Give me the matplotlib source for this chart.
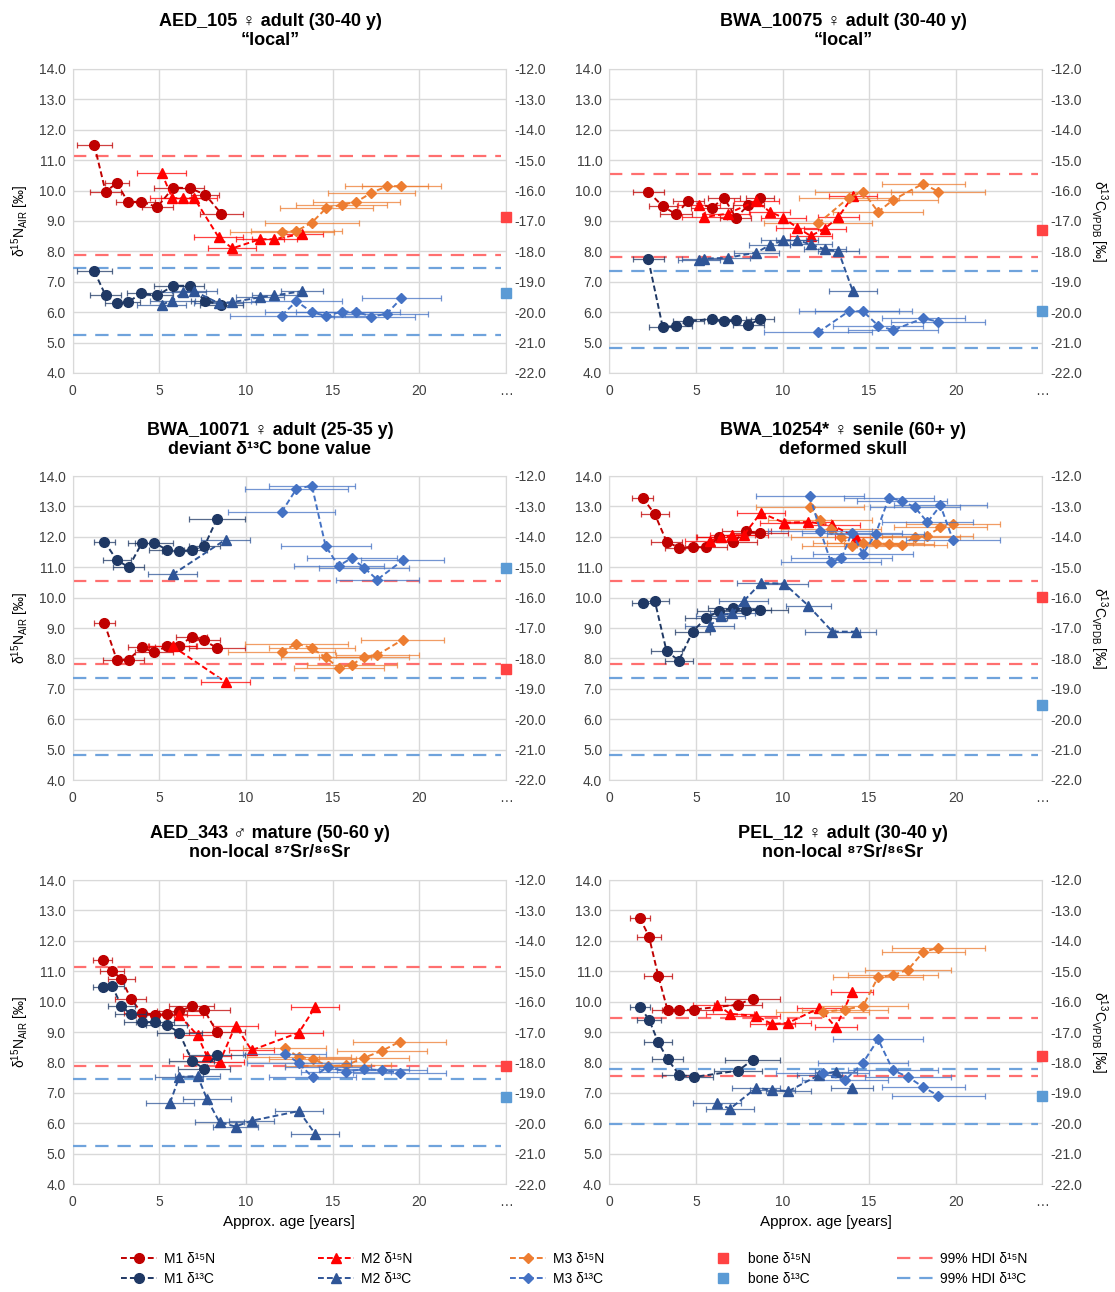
import matplotlib

matplotlib.use("Agg")

import matplotlib.pyplot as plt
import numpy as np
from matplotlib.lines import Line2D

plt.rcParams["font.family"] = ["Liberation Sans", "DejaVu Sans"]
plt.rcParams["mathtext.fontset"] = "custom"
plt.rcParams["mathtext.rm"] = "Liberation Sans"
plt.rcParams["mathtext.it"] = "Liberation Sans:italic"
plt.rcParams["axes.unicode_minus"] = False

nan = np.nan

# ---- AED_105 ----
p1_m1_age = [1.25, 1.90, 2.54, 3.19, 3.96, 4.88, 5.81, 6.77, 7.65, 8.58]
p1_m1_err = [1.0, 0.9, 0.7, 0.7, 0.8, 0.9, 1.1, 0.8, 0.8, 1.25]
p1_m1_n = [11.49, 9.96, 10.25, 9.63, 9.63, 9.46, 10.10, 10.08, 9.87, 9.24]
p1_m1_c = [-18.66, -19.45, -19.71, -19.67, -19.38, -19.45, -19.13, -19.13, -19.63, -19.76]
p1_m2_age = [5.13, 5.75, 6.38, 7.02, 8.42, 9.21, 10.81, 11.63, 13.25]
p1_m2_err = [1.43, 1.3, 1.3, 1.3, 1.42, 1.4, 1.4, 1.3, 1.2]
p1_m2_n = [10.59, 9.75, 9.75, 9.75, 8.47, 8.10, 8.40, 8.40, 8.58]
p1_m2_c = [-19.75, -19.62, -19.34, -19.31, -19.70, -19.67, -19.51, -19.45, -19.31]
p1_m3_age = [12.06, 12.92, 13.81, 14.65, 15.52, 16.38, 17.25, 18.13, 18.98]
p1_m3_err = [3.0, 2.6, 2.7, 2.7, 2.6, 2.5, 2.5, 2.4, 2.3]
p1_m3_n = [8.65, 8.67, 8.95, 9.43, 9.53, 9.63, 9.93, 10.14, 10.15]
p1_m3_c = [-20.11, -19.64, -20.00, -20.13, -19.98, -19.98, -20.15, -20.05, -19.54]
p1_bone = [9.12, -19.38]
p1_hdi_n = [11.13, 7.87]
p1_hdi_c = [-18.53, -20.74]

# ---- BWA_10075 ----
p2_m1_age = [2.25, 3.08, 3.85, 4.56, 5.94, 6.62, 7.31, 8.02, 8.71]
p2_m1_err = [0.9, 0.8, 0.9, 0.9, 1.2, 0.9, 0.9, 0.9, 0.8]
p2_m1_n = [9.96, 9.49, 9.22, 9.66, 9.44, 9.76, 9.11, 9.52, 9.76]
p2_m1_c = [-18.26, -20.48, -20.46, -20.30, -20.22, -20.30, -20.27, -20.43, -20.22]
p2_m2_age = [5.19, 5.48, 6.83, 8.48, 9.25, 10.04, 10.85, 11.63, 12.44, 13.23, 14.06]
p2_m2_err = [1.2, 1.3, 1.3, 1.3, 1.2, 1.3, 1.2, 1.2, 1.2, 1.2, 1.4]
p2_m2_n = [9.52, 9.13, 9.24, 9.66, 9.31, 9.11, 8.78, 8.51, 8.75, 9.13, 9.82]
p2_m2_c = [-18.29, -18.24, -18.21, -18.04, -17.80, -17.64, -17.63, -17.77, -17.93, -17.99, -19.31]
p2_m3_age = [12.06, 13.83, 14.65, 15.52, 16.38, 18.12, 18.98]
p2_m3_err = [3.1, 2.9, 2.8, 2.6, 2.6, 2.4, 2.7]
p2_m3_n = [8.92, 9.77, 9.97, 9.30, 9.69, 10.23, 9.97]
p2_m3_c = [-20.66, -19.97, -19.97, -20.44, -20.59, -20.20, -20.31]
p2_bone = [8.69, -19.97]
p2_hdi_n = [10.54, 7.81]
p2_hdi_c = [-18.65, -21.19]

# ---- BWA_10071 ----
p3_m1_age = [1.83, 2.54, 3.23, 3.98, 4.71, 5.42, 6.13, 6.87, 7.60, 8.33]
p3_m1_err = [0.6, 0.8, 0.9, 0.8, 1.1, 1.0, 1.0, 0.9, 0.9, 1.6]
p3_m1_n = [9.16, 7.96, 7.96, 8.36, 8.20, 8.40, 8.42, 8.70, 8.59, 8.34]
p3_m1_c = [-14.16, -14.76, -15.00, -14.22, -14.20, -14.42, -14.47, -14.44, -14.31, -13.41]
p3_m2_age = [5.77, 8.83]
p3_m2_err = [1.4, 1.4]
p3_m2_n = [8.40, 7.22]
p3_m2_c = [-15.24, -14.09]
p3_m3_age = [12.06, 12.92, 13.81, 14.60, 15.35, 16.10, 16.83, 17.58, 19.06]
p3_m3_err = [3.1, 3.0, 2.5, 2.6, 2.6, 2.6, 2.6, 2.4, 2.4]
p3_m3_n = [8.21, 8.49, 8.34, 8.03, 7.70, 7.79, 8.04, 8.11, 8.62]
p3_m3_c = [-13.19, -12.42, -12.32, -14.30, -14.96, -14.70, -15.02, -15.41, -14.77]
p3_bone = [7.66, -15.03]
p3_hdi_n = [10.54, 7.81]
p3_hdi_c = [-18.65, -21.19]

# ---- BWA_10254* ----
p4_m1_age = [1.92, 2.63, 3.31, 4.02, 4.81, 5.58, 6.35, 7.12, 7.92, 8.69]
p4_m1_err = [0.6, 0.8, 0.9, 0.8, 1.0, 1.2, 1.3, 1.4, 1.4, 1.6]
p4_m1_n = [13.29, 12.74, 11.84, 11.64, 11.67, 11.65, 11.99, 11.82, 12.19, 12.11]
p4_m1_c = [-16.19, -16.12, -17.77, -18.07, -17.12, -16.67, -16.45, -16.34, -16.40, -16.41]
p4_m2_age = [5.79, 6.43, 7.11, 7.75, 8.75, 10.10, 11.48, 12.88, 14.22]
p4_m2_err = [1.4, 1.4, 1.3, 1.4, 1.4, 1.4, 1.3, 1.6, 1.2]
p4_m2_n = [11.86, 11.99, 12.05, 12.05, 12.79, 12.46, 12.49, 12.38, 11.99]
p4_m2_c = [-16.95, -16.59, -16.51, -16.12, -15.52, -15.54, -16.26, -17.12, -17.12]
p4_m3_age = [11.58, 12.19, 12.79, 13.40, 14.00, 14.65, 15.38, 16.15, 16.88, 17.63, 18.37, 19.12, 19.85]
p4_m3_err = [3.1, 3.0, 2.9, 2.9, 2.9, 2.9, 2.8, 2.6, 2.6, 2.6, 2.6, 2.7, 2.7]
p4_m3_n = [12.99, 12.54, 12.27, 11.99, 11.69, 11.78, 11.78, 11.76, 11.74, 11.99, 12.04, 12.31, 12.42]
p4_m3_c = [-12.66, -13.81, -14.82, -14.71, -13.87, -14.56, -13.90, -12.71, -12.82, -13.02, -13.52, -12.97, -14.12]
p4_bone = [10.02, -19.53]
p4_hdi_n = [10.54, 7.81]
p4_hdi_c = [-18.65, -21.19]

# ---- AED_343 ----
p5_m1_age = [1.73, 2.27, 2.81, 3.35, 3.98, 4.73, 5.42, 6.15, 6.88, 7.60, 8.33]
p5_m1_err = [0.55, 0.7, 0.8, 0.9, 1.0, 1.1, 1.2, 1.3, 1.3, 1.5, 1.6]
p5_m1_n = [11.36, 11.01, 10.75, 10.10, 9.63, 9.57, 9.60, 9.68, 9.85, 9.71, 9.00]
p5_m1_c = [-15.52, -15.48, -16.14, -16.42, -16.68, -16.67, -16.76, -17.02, -17.95, -18.21, -17.75]
p5_m2_age = [5.62, 6.15, 7.21, 7.75, 8.48, 9.40, 10.33, 13.06, 14.00]
p5_m2_err = [1.4, 1.4, 1.3, 1.4, 1.4, 1.3, 1.3, 1.4, 1.4]
p5_m2_n = [nan, 9.55, 8.89, 8.20, 8.01, 9.21, 8.40, 8.98, 9.82]
p5_m2_c = [-19.33, -18.48, -18.45, -19.20, -19.97, -20.11, -19.92, -19.60, -20.35]
p5_m3_age = [12.25, 13.04, 13.85, 14.73, 15.77, 16.81, 17.85, 18.88]
p5_m3_err = [2.4, 3.0, 2.5, 2.5, 2.6, 2.6, 2.6, 2.7]
p5_m3_n = [8.47, 8.18, 8.12, 7.88, 7.90, 8.15, 8.38, 8.68]
p5_m3_c = [-17.71, -18.02, -18.49, -18.15, -18.30, -18.22, -18.26, -18.34]
p5_bone = [7.87, -19.13]
p5_hdi_n = [11.13, 7.87]
p5_hdi_c = [-18.53, -20.74]

# ---- PEL_12 ----
p6_m1_age = [1.77, 2.29, 2.83, 3.37, 4.04, 4.90, 7.44, 8.27]
p6_m1_err = [0.6, 0.7, 0.8, 0.9, 1.0, 1.1, 1.4, 1.6]
p6_m1_n = [12.75, 12.14, 10.84, 9.71, 9.71, 9.74, 9.90, 10.10]
p6_m1_c = [-16.18, -16.59, -17.34, -17.90, -18.41, -18.48, -18.27, -17.92]
p6_m2_age = [6.23, 6.96, 8.48, 9.40, 10.33, 12.13, 13.08, 14.00]
p6_m2_err = [1.4, 1.4, 1.4, 1.3, 1.3, 1.3, 1.2, 1.2]
p6_m2_n = [9.90, 9.60, 9.53, 9.26, 9.30, 9.79, 9.15, 10.30]
p6_m2_c = [-19.33, -19.53, -18.84, -18.90, -18.95, -18.41, -18.30, -18.84]
p6_m3_age = [12.31, 13.60, 14.65, 15.52, 16.38, 17.25, 18.12, 19.00]
p6_m3_err = [2.7, 2.5, 2.6, 2.6, 2.6, 2.5, 2.4, 2.7]
p6_m3_n = [9.66, 9.74, 9.85, 10.81, 10.87, 11.05, 11.63, 11.77]
p6_m3_c = [-18.35, -18.59, -18.01, -17.24, -18.26, -18.48, -18.81, -19.10]
p6_bone = [8.20, -19.10]
p6_hdi_n = [9.47, 7.55]
p6_hdi_c = [-18.21, -20.04]

titles = [
    "AED_105 ♀ adult (30-40 y)\n“local”",
    "BWA_10075 ♀ adult (30-40 y)\n“local”",
    "BWA_10071 ♀ adult (25-35 y)\ndeviant δ¹³C bone value",
    "BWA_10254* ♀ senile (60+ y)\ndeformed skull",
    "AED_343 ♂ mature (50-60 y)\nnon-local ⁸⁷Sr/⁸⁶Sr",
    "PEL_12 ♀ adult (30-40 y)\nnon-local ⁸⁷Sr/⁸⁶Sr",
]
x_ticks = [0, 5, 10, 15, 20, 25]
x_tick_labels = ["0", "5", "10", "15", "20", "…"]
BONE_X = 25

C_M1N, C_M2N, C_M3N = "#C00000", "#FF0000", "#ED7D31"
C_M1C, C_M2C, C_M3C = "#1F3864", "#2F5597", "#4472C4"
C_BONE_N, C_BONE_C = "#FF4343", "#5B9BD5"
C_HDI_N, C_HDI_C = "#FF6F6F", "#6FA3DC"
GRID = "#D9D9D9"

panels = []
for i in range(1, 7):
    g = globals()
    panels.append({k: g[f"p{i}_{k}"] for k in [
        "m1_age", "m1_err", "m1_n", "m1_c", "m2_age", "m2_err", "m2_n", "m2_c",
        "m3_age", "m3_err", "m3_n", "m3_c", "bone", "hdi_n", "hdi_c"]})

W, H = 1115, 1292
fig = plt.figure(figsize=(W / 100, H / 100), dpi=100)

col_left = [72.7, 609.3]
row_top = [69, 476, 880]
ax_w, ax_h = 433, 304
title_x = [270, 843]
title_y = [31, 440, 843]


def series(ax, x, y, err, color, marker, ms):
    ax.errorbar(x, y, xerr=err, fmt="none", ecolor=color, elinewidth=0.9,
                capsize=2.5, capthick=0.9, alpha=0.75, zorder=2)
    ax.plot(x, y, ls=(0, (3, 1.6)), lw=1.4, color=color, marker=marker,
            ms=ms, zorder=3)


for idx, p in enumerate(panels):
    r, c = divmod(idx, 2)
    left, top = col_left[c], row_top[r]
    ax = fig.add_axes([left / W, 1 - (top + ax_h) / H, ax_w / W, ax_h / H])
    ax2 = ax.twinx()

    ax.set_xlim(0, 25)
    ax.set_ylim(4, 14)
    ax2.set_ylim(-22, -12)
    ax.set_xticks(x_ticks)
    ax.set_xticklabels(x_tick_labels)
    ax.set_yticks(np.arange(4, 14.01, 1))
    ax.set_yticklabels([f"{v:.1f}" for v in np.arange(4, 14.01, 1)])
    ax2.set_yticks(np.arange(-22, -11.99, 1))
    ax2.set_yticklabels([f"{v:.1f}" for v in np.arange(-22, -11.99, 1)])
    ax.grid(True, color=GRID, lw=1.0)
    ax.set_axisbelow(True)
    for a in (ax, ax2):
        a.tick_params(length=0, labelsize=10, colors="#404040")
    for s in ax.spines.values():
        s.set_color(GRID)
    for s in ax2.spines.values():
        s.set_visible(False)
    ax.tick_params(axis="y", pad=5)
    ax2.tick_params(axis="y", pad=6)
    ax.tick_params(axis="x", pad=8)

    # HDI lines
    for v in p["hdi_n"]:
        ax.plot([0, 24.75], [v, v], color=C_HDI_N, lw=1.6, ls=(0, (6, 4)), zorder=1)
    for v in p["hdi_c"]:
        ax2.plot([0, 24.75], [v, v], color=C_HDI_C, lw=1.6, ls=(0, (6, 4)), zorder=1)

    series(ax, p["m1_age"], p["m1_n"], p["m1_err"], C_M1N, "o", 7)
    series(ax, p["m2_age"], p["m2_n"], p["m2_err"], C_M2N, "^", 7)
    series(ax, p["m3_age"], p["m3_n"], p["m3_err"], C_M3N, "D", 5)
    series(ax2, p["m1_age"], p["m1_c"], p["m1_err"], C_M1C, "o", 7)
    series(ax2, p["m2_age"], p["m2_c"], p["m2_err"], C_M2C, "^", 7)
    series(ax2, p["m3_age"], p["m3_c"], p["m3_err"], C_M3C, "D", 5)

    ax.plot([BONE_X], [p["bone"][0]], "s", color=C_BONE_N, ms=7.5, clip_on=False, zorder=5)
    ax2.plot([BONE_X], [p["bone"][1]], "s", color=C_BONE_C, ms=7.5, clip_on=False, zorder=5)

    fig.text(title_x[c] / W, 1 - title_y[r] / H, titles[idx], ha="center",
             va="center", fontsize=13, fontweight="bold", linespacing=1.1)

    if c == 0:
        fig.text(20 / W, 1 - (top + ax_h / 2) / H, r"δ$^{15}$N$_{\mathrm{AIR}}$ [‰]",
                 rotation=90, ha="center", va="center", fontsize=10)
    else:
        fig.text(1099 / W, 1 - (top + ax_h / 2) / H, r"δ$^{13}$C$_{\mathrm{VPDB}}$ [‰]",
                 rotation=270, ha="center", va="center", fontsize=10)
    if r == 2:
        ax.set_xlabel("Approx. age [years]", fontsize=11, labelpad=4)

# legend, one small legend per column
def mk(color, marker, ms):
    return Line2D([], [], color=color, ls=(0, (3, 1.6)), lw=1.4, marker=marker, ms=ms)


leg_cols = [
    ([mk(C_M1N, "o", 7), mk(C_M1C, "o", 7)], ["M1 δ¹⁵N", "M1 δ¹³C"], 121),
    ([mk(C_M2N, "^", 7), mk(C_M2C, "^", 7)], ["M2 δ¹⁵N", "M2 δ¹³C"], 318),
    ([mk(C_M3N, "D", 5), mk(C_M3C, "D", 5)], ["M3 δ¹⁵N", "M3 δ¹³C"], 510),
    ([Line2D([], [], color=C_BONE_N, ls="none", marker="s", ms=7.5),
      Line2D([], [], color=C_BONE_C, ls="none", marker="s", ms=7.5)],
     ["bone δ¹⁵N", "bone δ¹³C"], 705),
    ([Line2D([], [], color=C_HDI_N, lw=1.6, ls=(0, (6, 4))),
      Line2D([], [], color=C_HDI_C, lw=1.6, ls=(0, (6, 4)))],
     ["99% HDI δ¹⁵N", "99% HDI δ¹³C"], 897),
]
for handles, labels, xpx in leg_cols:
    fig.legend(handles, labels, loc="upper left", bbox_to_anchor=(xpx / W, 1 - 1252 / H),
               frameon=False, fontsize=10, handlelength=2.6, handletextpad=0.5,
               labelspacing=0.45, borderpad=0, borderaxespad=0)

fig.savefig("out.png", dpi=100)
plt.close(fig)
